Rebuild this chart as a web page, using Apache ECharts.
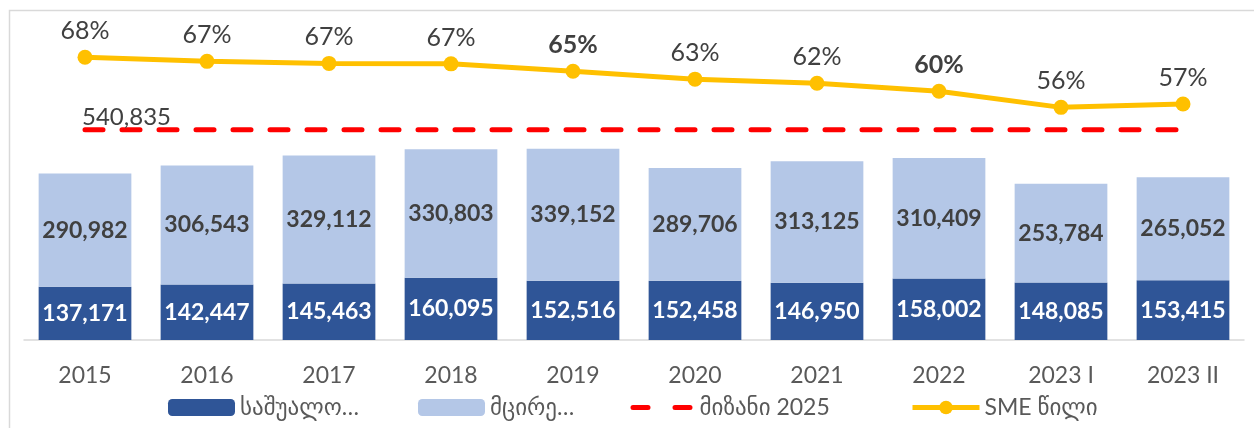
<!DOCTYPE html>
<html lang="ka">
<head>
    <meta charset="UTF-8">
    <title>SME chart</title>
    <script src="https://cdn.jsdelivr.net/npm/echarts@6/dist/echarts.min.js"></script>
    <style>
        body { margin: 0; background: #fff; }
        #chart { width: 1254px; height: 428px; }
    </style>
</head>
<body>
    <div id="chart"></div>
    <script type="text/javascript">
    // data
    const years = ['2015', '2016', '2017', '2018', '2019', '2020', '2021', '2022', '2023 I', '2023 II'];
    const medium = [137171, 142447, 145463, 160095, 152516, 152458, 146950, 158002, 148085, 153415];
    const small = [290982, 306543, 329112, 330803, 339152, 289706, 313125, 310409, 253784, 265052];
    const target = [540835, 540835, 540835, 540835, 540835, 540835, 540835, 540835, 540835, 540835];
    const smeShare = [0.682, 0.672, 0.667, 0.666, 0.648, 0.629, 0.619, 0.600, 0.561, 0.569];
    const boldShare = [4, 7]; // these labels are bold in the original

    const names = ['საშუალო…', 'მცირე…', 'მიზანი 2025', 'SME წილი'];
    // left edge of each legend entry, as in the original
    const legendLeft = [168, 418, 625, 910];

    const font = 'Lato, "DejaVu Sans", sans-serif';
    const textColor = '#404040';
    const fmt = (v) => v.toLocaleString('en-US');

    var chart = echarts.init(document.getElementById('chart'));

    // one legend per entry so each can be placed on its own
    var legends = names.map((n, i) => {
        var item = n;
        if (i === 2) {
            item = {
                name: n,
                // hide the marker on the dashed target line
                itemStyle: { color: 'rgba(0,0,0,0)' },
                lineStyle: { width: 5, type: [15, 27], dashOffset: 36.5, cap: 'round' }
            };
        } else if (i === 3) {
            item = { name: n, lineStyle: { width: 5 } };
        }
        return {
            data: [item],
            left: legendLeft[i],
            top: 396,
            padding: 0,
            itemWidth: 67,
            itemHeight: 17,
            textStyle: { fontFamily: font, fontSize: 23, color: '#595959' }
        };
    });

    var option = {
        textStyle: { fontFamily: font },
        animation: false,
        graphic: [{
            type: 'rect',
            silent: true,
            shape: { x: 9.5, y: 10.5, width: 1300, height: 500 },
            style: { fill: 'none', stroke: '#d9d9d9', lineWidth: 1.5 }
        }],
        grid: { left: 24, right: 10, top: 29, bottom: 88 },
        legend: legends,
        xAxis: {
            type: 'category',
            data: years,
            axisTick: { show: false },
            axisLine: { lineStyle: { color: '#d9d9d9', width: 1.5 } },
            axisLabel: { fontSize: 23, color: '#595959', margin: 24, fontFamily: font }
        },
        yAxis: [
            { type: 'value', min: 0, max: 800000, show: false, splitLine: { show: false } },
            { type: 'value', min: 0, max: 0.75, show: false, splitLine: { show: false } }
        ],
        series: [
            {
                name: names[0],
                type: 'bar',
                stack: 'total',
                barWidth: '76%',
                itemStyle: { color: '#2F5597' },
                label: {
                    show: true, position: 'inside', color: '#fff',
                    fontSize: 23, fontWeight: 'bold', fontFamily: font,
                    formatter: (p) => fmt(p.value)
                },
                data: medium
            },
            {
                name: names[1],
                type: 'bar',
                stack: 'total',
                itemStyle: { color: '#B4C7E7' },
                label: {
                    show: true, position: 'inside', color: textColor,
                    fontSize: 23, fontWeight: 'bold', fontFamily: font,
                    formatter: (p) => fmt(p.value)
                },
                data: small
            },
            {
                name: names[2],
                type: 'line',
                symbol: 'none',
                z: 5,
                lineStyle: { color: '#FF0000', width: 5, type: [18, 19], cap: 'round' },
                itemStyle: { color: '#FF0000' },
                data: target.map((v, i) => i === 0 ? {
                    value: v,
                    symbol: 'circle',
                    symbolSize: 1,
                    label: {
                        show: true, position: 'top', align: 'left', distance: 0,
                        offset: [-3, 0], fontSize: 24, color: textColor, fontFamily: font,
                        formatter: (p) => fmt(p.value)
                    }
                } : v)
            },
            {
                name: names[3],
                type: 'line',
                yAxisIndex: 1,
                z: 6,
                symbol: 'circle',
                symbolSize: 15,
                lineStyle: { color: '#FFC000', width: 5 },
                itemStyle: { color: '#FFC000' },
                label: {
                    show: true, position: 'top', distance: 6,
                    fontSize: 25, color: textColor, fontFamily: font,
                    formatter: (p) => Math.round(p.value * 100) + '%'
                },
                data: smeShare.map((v, i) => boldShare.includes(i)
                    ? { value: v, label: { fontWeight: 'bold' } }
                    : v)
            }
        ]
    };
    chart.setOption(option);
    </script>
</body>
</html>
